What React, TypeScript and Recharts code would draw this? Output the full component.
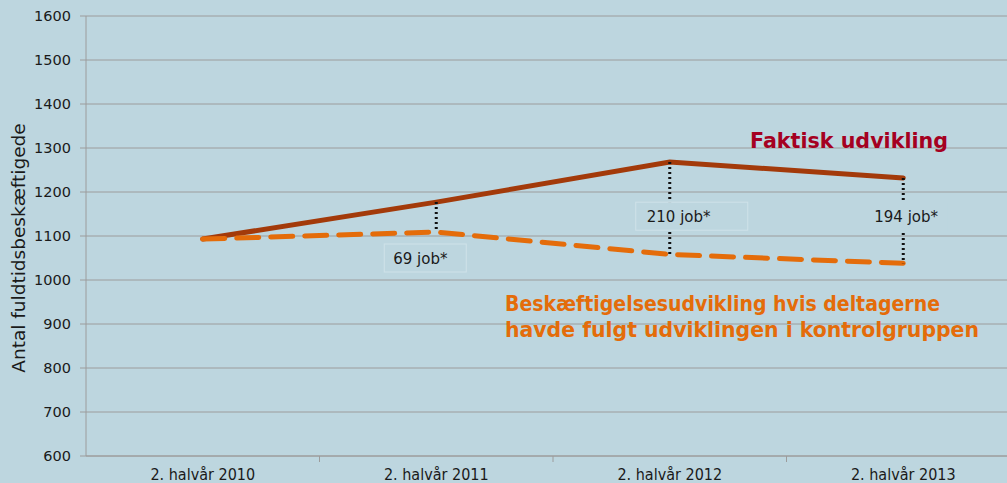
import React from 'react';
import {
  LineChart, Line, XAxis, YAxis, CartesianGrid, ReferenceLine, ReferenceDot, Customized,
} from 'recharts';

const categories = ['2. halvår 2010', '2. halvår 2011', '2. halvår 2012', '2. halvår 2013'];
const faktisk = [1093, 1177, 1268, 1232];
const kontrol = [1093, 1109, 1058, 1038];
const effektLabels = ['', '69 job*', '210 job*', '194 job*'];
const labelLevels = [0, 1050, 1145, 1145];
const yTicks = [600, 700, 800, 900, 1000, 1100, 1200, 1300, 1400, 1500, 1600];
const xTicks = [0, 0.5, 1, 1.5, 2, 2.5, 3];

const BG = '#bdd6df';
const GRID = '#9c9c9c';
const BROWN = '#a33a0a';
const ORANGE = '#e46c0a';
const CRIMSON = '#a50021';

const data = categories.map((cat, i) => ({
  i,
  cat,
  faktisk: faktisk[i],
  kontrol: kontrol[i],
}));

// label box layout per annotation (text start offset from the line, box width)
const labelLayout = [
  null,
  { dx: -43, boxX: -52, boxW: 82, border: true },
  { dx: -23, boxX: -34, boxW: 112, border: true },
  { dx: -29, boxX: -34, boxW: 78, border: false },
];

const XTick = (props: any) => {
  const { x, y, payload } = props;
  const v = payload.value;
  if (Number.isInteger(v)) {
    return (
      <text x={x} y={y + 24} textAnchor="middle" fontSize={16}
        fontFamily="'DejaVu Sans Condensed', 'DejaVu Sans', sans-serif" fill="#1a1a1a">
        {categories[v]}
      </text>
    );
  }
  return <line x1={x} x2={x} y1={y} y2={y + 6} stroke={GRID} />;
};

const Texts = () => (
  <g>
    <text x={25} y={248} transform="rotate(-90 25 248)" textAnchor="middle" fontSize={18.5}
      fontFamily="'DejaVu Sans', sans-serif" fill="#1a1a1a">
      Antal fuldtidsbeskæftigede
    </text>
    <text x={750} y={148} fontSize={20.5} fontWeight="bold" fill={CRIMSON}
      fontFamily="'DejaVu Sans', sans-serif" textLength={198} lengthAdjust="spacingAndGlyphs">
      Faktisk udvikling
    </text>
    <text x={505} y={311} fontSize={20.5} fontWeight="bold" fill={ORANGE}
      fontFamily="'DejaVu Sans', sans-serif" textLength={435} lengthAdjust="spacingAndGlyphs">
      Beskæftigelsesudvikling hvis deltagerne
    </text>
    <text x={505} y={337} fontSize={20.5} fontWeight="bold" fill={ORANGE}
      fontFamily="'DejaVu Sans', sans-serif" textLength={474} lengthAdjust="spacingAndGlyphs">
      havde fulgt udviklingen i kontrolgruppen
    </text>
  </g>
);

const App = () => {
  return (
    <div style={{ position: 'fixed', left: 0, top: 0, width: 1007, height: 483, overflow: 'hidden', background: BG }}>
      <LineChart width={1030} height={483} data={data} margin={{ top: 16, right: 10, left: 0, bottom: 0 }}>
        <CartesianGrid vertical={false} stroke={GRID} />
        <XAxis
          dataKey="i"
          type="number"
          domain={[-0.5, 3.5]}
          ticks={xTicks}
          interval={0}
          height={27}
          tickLine={false}
          tickSize={0}
          tickMargin={0}
          axisLine={{ stroke: GRID }}
          tick={<XTick />}
        />
        <YAxis
          domain={[600, 1600]}
          ticks={yTicks}
          width={86}
          tickSize={6}
          tickMargin={9}
          axisLine={{ stroke: GRID }}
          tickLine={{ stroke: GRID }}
          tick={{ fill: '#1a1a1a', fontSize: 14.5, fontFamily: "'DejaVu Sans', sans-serif" }}
        />
        <Line dataKey="faktisk" stroke={BROWN} strokeWidth={5} dot={false}
          strokeLinecap="round" isAnimationActive={false} />
        <Line dataKey="kontrol" stroke={ORANGE} strokeWidth={5} dot={false}
          strokeDasharray="22 12" strokeLinecap="round" isAnimationActive={false} />
        {data.slice(1).map((d) => (
          <ReferenceLine
            key={'seg' + d.i}
            segment={[{ x: d.i, y: d.faktisk }, { x: d.i, y: d.kontrol }]}
            stroke="#111"
            strokeWidth={3}
            strokeDasharray="2 3"
          />
        ))}
        {data.slice(1).map((d) => {
          const lay = labelLayout[d.i]!;
          return (
            <ReferenceDot
              key={'lbl' + d.i}
              x={d.i}
              y={labelLevels[d.i]}
              r={0}
              shape={(p: any) => (
                <g>
                  <rect x={p.cx + lay.boxX} y={p.cy - 14} width={lay.boxW} height={28}
                    fill={BG} stroke={lay.border ? '#cfe2e9' : 'none'} />
                  <text x={p.cx + lay.dx} y={p.cy + 6} fontSize={15}
                    fontFamily="'DejaVu Sans', sans-serif" fill="#1a1a1a">
                    {effektLabels[d.i]}
                  </text>
                </g>
              )}
            />
          );
        })}
        <Customized component={<Texts />} />
      </LineChart>
    </div>
  );
};

export default App;
